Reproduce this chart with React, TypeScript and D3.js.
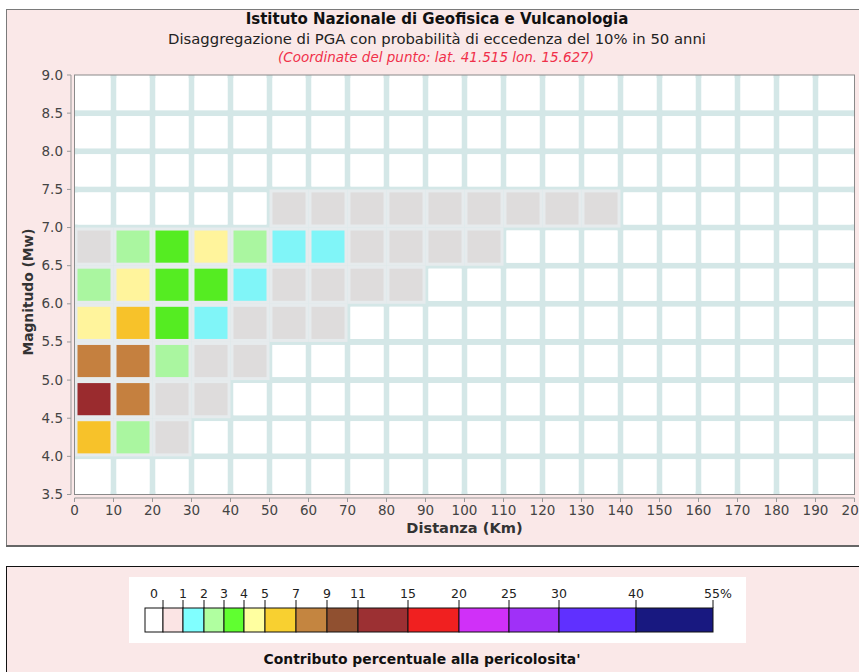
import React from "react";
import * as d3 from "d3";

// ---------- data ----------
const distanceTicks = [0, 10, 20, 30, 40, 50, 60, 70, 80, 90, 100, 110, 120, 130, 140, 150, 160, 170, 180, 190, 200];
const magnitudeTicks = [3.5, 4.0, 4.5, 5.0, 5.5, 6.0, 6.5, 7.0, 7.5, 8.0, 8.5, 9.0];
const distanceBinWidth = 10;
const magnitudeBinWidth = 0.5;

// lower edges of magnitude bins that carry contributions
const magnitudeBins = [4.0, 4.5, 5.0, 5.5, 6.0, 6.5, 7.0];
// percentage contribution per distance bin (0-10, 10-20, ...), one array per magnitude bin
const contribM40 = [6.2, 2.4, 0.7];
const contribM45 = [12.8, 7.6, 0.8, 0.4];
const contribM50 = [7.9, 7.3, 2.2, 0.9, 0.3];
const contribM55 = [4.4, 5.6, 3.4, 1.6, 0.8, 0.5, 0.3];
const contribM60 = [2.3, 4.2, 3.6, 3.2, 1.7, 0.9, 0.7, 0.5, 0.3];
const contribM65 = [0.9, 2.4, 3.8, 4.3, 2.6, 1.8, 1.4, 0.9, 0.7, 0.5, 0.3];
const contribM70 = [0, 0, 0, 0, 0, 0.6, 0.6, 0.5, 0.5, 0.4, 0.3, 0.3, 0.2, 0.2];
const contribRows = [contribM40, contribM45, contribM50, contribM55, contribM60, contribM65, contribM70];

// legend classes
const legendBreaks = [0, 1, 2, 3, 4, 5, 7, 9, 11, 15, 20, 25, 30, 40, 55];
const legendLabels = ["1", "2", "3", "4", "5", "7", "9", "11", "15", "20", "25", "30", "40", "55%"];
const legendColors = ["#fbe4e4", "#80ffff", "#b0ffa0", "#60ff30", "#ffffa0", "#f8d030", "#c48540", "#905030", "#9c3033", "#f02020", "#d030f8", "#a030f8", "#6030ff", "#181880"];
const chartColors = ["#dedcdc", "#80f5f8", "#aaf6a0", "#55ec22", "#fff49c", "#f7c22a", "#c5803f", "#905030", "#9a2b2e", "#f02020", "#d030f8", "#a030f8", "#6030ff", "#181880"];

const titleText = "Istituto Nazionale di Geofisica e Vulcanologia";
const subtitleText = "Disaggregazione di PGA con probabilità di eccedenza del 10% in 50 anni";
const coordText = "(Coordinate del punto: lat. 41.515 lon. 15.627)";
const xTitle = "Distanza (Km)";
const yTitle = "Magnitudo (Mw)";
const legendTitle = "Contributo percentuale alla pericolosita'";

// ---------- layout ----------
const W = 859;
const H = 672;
const font = "'DejaVu Sans', Verdana, sans-serif";
const pink = "#fae8e8";

const x = d3.scaleLinear().domain([0, 200]).range([74.5, 854.5]);
const y = d3.scaleLinear().domain([3.5, 9.0]).range([494.5, 75]);
const colorOf = d3.scaleThreshold<number, string>().domain(legendBreaks.slice(1, -1)).range(chartColors);
const legendX = d3.scaleLinear().domain(legendBreaks).range([163, 183, 204, 224, 244, 265, 296, 327, 358, 408, 459, 509, 559, 636, 713]);

type Cell = { d: number; m: number; v: number };

export default function App() {
  const cells: Cell[] = [];
  const distStarts = d3.range(0, 200, distanceBinWidth);
  const magStarts = d3.range(3.5, 9.0 - 1e-9, magnitudeBinWidth);
  for (const m of magStarts) {
    for (const d of distStarts) {
      const ri = magnitudeBins.findIndex((b) => Math.abs(b - m) < 1e-6);
      const v = ri >= 0 ? contribRows[ri][d / distanceBinWidth] ?? 0 : 0;
      cells.push({ d, m, v });
    }
  }
  const inset = 3;
  const x0 = x(0), x1 = x(200), y0 = y(9.0), y1 = y(3.5);
  const legendTop = 608, legendBottom = 632;

  return (
    <svg width={W} height={H} style={{ position: "absolute", left: 0, top: 0, background: "#fff" }} fontFamily={font}>
      {/* chart panel */}
      <rect x={6.5} y={9.5} width={W + 10} height={536} fill={pink} stroke="#7a7a7a" strokeWidth={1} />
      <line x1={6} x2={W} y1={546} y2={546} stroke="#666" strokeWidth={2} />

      <text x={437} y={24} textAnchor="middle" fontWeight="bold" fontSize={15} fill="#111">{titleText}</text>
      <text x={437} y={44} textAnchor="middle" fontSize={14.8} fill="#222">{subtitleText}</text>
      <text x={436} y={62} textAnchor="middle" fontSize={13.5} fontStyle="italic" fill="#f0304a">{coordText}</text>

      {/* plot background & grid */}
      <rect x={x0} y={y0} width={x1 - x0} height={y1 - y0} fill="#ffffff" />
      {distanceTicks.slice(1, -1).map((t) => (
        <line key={"gx" + t} x1={x(t)} x2={x(t)} y1={y0} y2={y1} stroke="#d4e7e7" strokeWidth={6} />
      ))}
      {magnitudeTicks.slice(1, -1).map((t) => (
        <line key={"gy" + t} x1={x0} x2={x1} y1={y(t)} y2={y(t)} stroke="#d4e7e7" strokeWidth={6} />
      ))}
      {/* underlay for occupied cells */}
      {cells.filter((c) => c.v > 0).map((c) => (
        <rect key={"u" + c.d + "_" + c.m} x={x(c.d)} y={y(c.m + magnitudeBinWidth)}
          width={x(c.d + distanceBinWidth) - x(c.d)} height={y(c.m) - y(c.m + magnitudeBinWidth)} fill="#e6ebed" />
      ))}
      {cells.map((c) => (
        <rect key={"c" + c.d + "_" + c.m} x={x(c.d) + inset} y={y(c.m + magnitudeBinWidth) + inset}
          width={x(c.d + distanceBinWidth) - x(c.d) - 2 * inset}
          height={y(c.m) - y(c.m + magnitudeBinWidth) - 2 * inset}
          fill={c.v > 0 ? colorOf(c.v) : "#ffffff"} />
      ))}
      <rect x={x0} y={y0} width={x1 - x0} height={y1 - y0} fill="none" stroke="#8a8a8a" strokeWidth={1} />

      {/* axes */}
      <line x1={71} x2={71} y1={y0} y2={y1} stroke="#999" />
      {magnitudeTicks.map((t) => (
        <g key={"yt" + t}>
          <line x1={67} x2={71} y1={y(t)} y2={y(t)} stroke="#999" />
          <text x={63} y={y(t) + 4.5} textAnchor="end" fontSize={13.5} fill="#444">{t.toFixed(1)}</text>
        </g>
      ))}
      <line x1={x0} x2={x1} y1={498} y2={498} stroke="#999" />
      {distanceTicks.map((t) => (
        <g key={"xt" + t}>
          <line x1={x(t)} x2={x(t)} y1={498} y2={502} stroke="#999" />
          <text x={x(t)} y={515} textAnchor="middle" fontSize={13.5} fill="#444">{t}</text>
        </g>
      ))}
      <text x={(x0 + x1) / 2} y={533} textAnchor="middle" fontWeight="bold" fontSize={14.6} fill="#333">{xTitle}</text>
      <text transform={`translate(33,292) rotate(-90)`} textAnchor="middle" fontWeight="bold" fontSize={13.8} fill="#333">{yTitle}</text>

      {/* legend panel */}
      <rect x={6.5} y={566.5} width={W + 10} height={120} fill={pink} stroke="#111" strokeWidth={1} />
      <rect x={129} y={577} width={617} height={66} fill="#ffffff" />
      <rect x={145} y={legendTop} width={legendX(0) - 145} height={legendBottom - legendTop} fill="#ffffff" stroke="#111" />
      {legendColors.map((col, i) => (
        <rect key={"lg" + i} x={legendX(legendBreaks[i])} y={legendTop}
          width={legendX(legendBreaks[i + 1]) - legendX(legendBreaks[i])} height={legendBottom - legendTop}
          fill={col} stroke="#111" strokeWidth={1} />
      ))}
      <text x={154} y={598} textAnchor="middle" fontSize={12.5} fill="#222">0</text>
      {legendBreaks.map((b) => (
        <line key={"lt" + b} x1={legendX(b)} x2={legendX(b)} y1={600} y2={legendTop} stroke="#111" />
      ))}
      {legendLabels.map((lab, i) => (
        <text key={"ll" + i} x={legendX(legendBreaks[i + 1]) + (lab.endsWith("%") ? 5 : 0)} y={598}
          textAnchor="middle" fontSize={12.5} fill="#222">{lab}</text>
      ))}
      <text x={422} y={664} textAnchor="middle" fontWeight="bold" fontSize={13.9} fill="#111">{legendTitle}</text>
    </svg>
  );
}
